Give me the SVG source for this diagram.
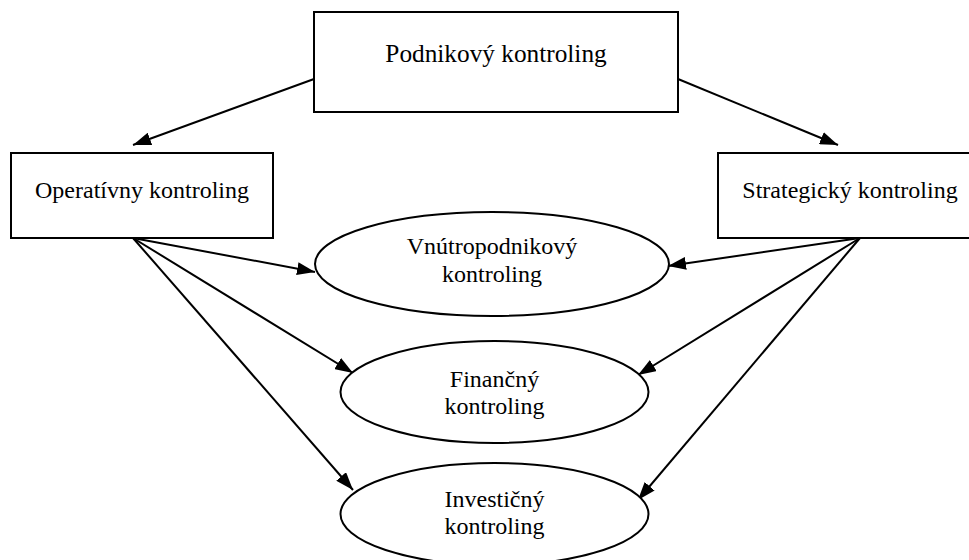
<svg xmlns="http://www.w3.org/2000/svg" width="969" height="560" viewBox="0 0 969 560">
<style>
.box{fill:#fff;stroke:#000;stroke-width:2}
.ell{fill:#fff;stroke:#000;stroke-width:2}
.lbl{font-family:'Liberation Serif','Times New Roman',serif;font-size:24px;fill:#000;text-anchor:middle}
.con{stroke:#000;stroke-width:2;fill:none;marker-end:url(#ah)}
</style>
<defs>
<marker id="ah" viewBox="0 0 18 13" refX="18" refY="6.5" markerWidth="18" markerHeight="13" markerUnits="userSpaceOnUse" orient="auto">
<path d="M0,0 L18,6.5 L0,13 Z" fill="#000"/>
</marker>
</defs>
<rect width="969" height="560" fill="#fff"/>
<g id="connectors">
<line class="con" x1="314" y1="79" x2="133" y2="145"/>
<line class="con" x1="678" y1="79" x2="838" y2="145"/>
<line class="con" x1="133" y1="238" x2="315" y2="272"/>
<line class="con" x1="133" y1="238" x2="353" y2="373"/>
<line class="con" x1="133" y1="238" x2="353" y2="490"/>
<line class="con" x1="860" y1="238" x2="668" y2="266"/>
<line class="con" x1="860" y1="238" x2="638" y2="375"/>
<line class="con" x1="860" y1="238" x2="638" y2="500"/>
</g>
<g id="podnikovy">
<rect class="box" x="314" y="12" width="364" height="100"/>
<text class="lbl" x="496" y="62" style="font-size:25.3px">Podnikový kontroling</text>
</g>
<g id="operativny">
<rect class="box" x="11" y="153" width="262" height="85"/>
<text class="lbl" x="142" y="198">Operatívny kontroling</text>
</g>
<g id="strategicky">
<rect class="box" x="718" y="153" width="264" height="85"/>
<text class="lbl" x="850" y="198">Strategický kontroling</text>
</g>
<g id="vnutropodnikovy">
<ellipse class="ell" cx="492" cy="264" rx="177" ry="52"/>
<text class="lbl" x="492" y="254">Vnútropodnikový</text>
<text class="lbl" x="492" y="282">kontroling</text>
</g>
<g id="financny">
<ellipse class="ell" cx="494.5" cy="392" rx="154" ry="51"/>
<text class="lbl" x="494.5" y="387">Finančný</text>
<text class="lbl" x="494.5" y="414">kontroling</text>
</g>
<g id="investicny">
<ellipse class="ell" cx="494.5" cy="514" rx="154" ry="51"/>
<text class="lbl" x="494.5" y="507">Investičný</text>
<text class="lbl" x="494.5" y="534">kontroling</text>
</g>
</svg>
